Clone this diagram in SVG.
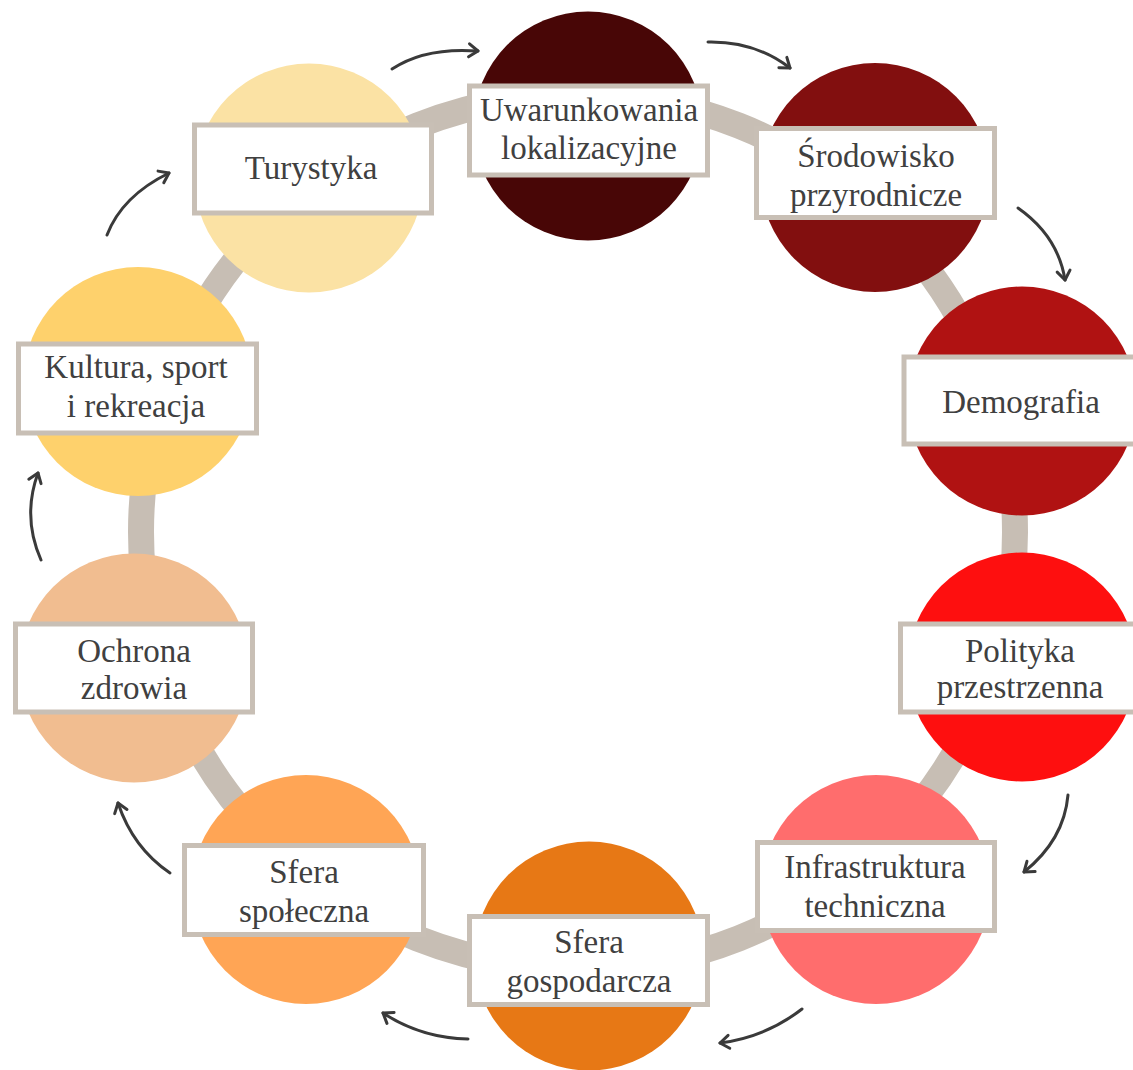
<svg xmlns="http://www.w3.org/2000/svg" width="1133" height="1070" viewBox="0 0 1133 1070">
<style>
.lbl { font-family: "Liberation Serif", "Times New Roman", serif; font-size: 33px; fill: #404040; text-anchor: middle; }
.box { fill: #ffffff; stroke: #c8bfb5; stroke-width: 5; }
.arrow { fill: none; stroke: #3a3a3a; stroke-width: 3; stroke-linecap: round; marker-end: url(#ah); }
.ring { fill: none; stroke: #c7beb4; stroke-width: 26; }
</style>
<defs>
<marker id="ah" markerUnits="userSpaceOnUse" markerWidth="20" markerHeight="20" viewBox="-12 -10 16 20" refX="0" refY="0" orient="auto">
<path d="M -9 -6.5 L 0 0 L -9 6.5" fill="none" stroke="#3a3a3a" stroke-width="3" stroke-linecap="round" stroke-linejoin="round"/>
</marker>
</defs>
<rect width="1133" height="1070" fill="#ffffff"/>
<g id="connectors">
<circle class="ring" cx="578" cy="532" r="437"/>
<path class="arrow" d="M 392 69 Q 425 47 478 51"/>
<path class="arrow" d="M 708 42 Q 755 41 790 68"/>
<path class="arrow" d="M 1018 208 Q 1058 236 1065 280"/>
<path class="arrow" d="M 1068 795 Q 1064 840 1024 872"/>
<path class="arrow" d="M 802 1009 Q 766 1037 720 1043"/>
<path class="arrow" d="M 468 1039 Q 421 1038 383 1013"/>
<path class="arrow" d="M 170 873 Q 133 848 118 803"/>
<path class="arrow" d="M 41 560 Q 22 517 38 473"/>
<path class="arrow" d="M 107 235 Q 122 196 169 173"/>
</g>
<g id="node-uwarunkowania">
<circle cx="588" cy="126" r="114.5" fill="#480606"/>
<rect class="box" x="469.5" y="86" width="238" height="89"/>
<text class="lbl" x="589" y="121">Uwarunkowania</text>
<text class="lbl" x="589" y="159">lokalizacyjne</text>
</g>
<g id="node-srodowisko">
<circle cx="875" cy="177.5" r="114.5" fill="#820f0f"/>
<rect class="box" x="756.5" y="128.5" width="238" height="89"/>
<text class="lbl" x="876" y="167">Środowisko</text>
<text class="lbl" x="876" y="206">przyrodnicze</text>
</g>
<g id="node-demografia">
<circle cx="1022" cy="401" r="114.5" fill="#b01212"/>
<rect class="box" x="904" y="357" width="238" height="87"/>
<text class="lbl" x="1021" y="413">Demografia</text>
</g>
<g id="node-polityka">
<circle cx="1022" cy="667" r="114.5" fill="#fe0f0f"/>
<rect class="box" x="900.5" y="624" width="238" height="88"/>
<text class="lbl" x="1020" y="662">Polityka</text>
<text class="lbl" x="1020" y="698">przestrzenna</text>
</g>
<g id="node-infrastruktura">
<circle cx="876" cy="889.5" r="114.5" fill="#ff6d6d"/>
<rect class="box" x="757.5" y="842.5" width="237" height="88"/>
<text class="lbl" x="875" y="878">Infrastruktura</text>
<text class="lbl" x="875" y="917">techniczna</text>
</g>
<g id="node-gospodarcza">
<circle cx="589" cy="956" r="114.5" fill="#e77815"/>
<rect class="box" x="469.5" y="916.5" width="238" height="88"/>
<text class="lbl" x="589" y="953">Sfera</text>
<text class="lbl" x="589" y="992">gospodarcza</text>
</g>
<g id="node-spoleczna">
<circle cx="306" cy="889.5" r="114.5" fill="#ffa555"/>
<rect class="box" x="184.5" y="845.5" width="239" height="89"/>
<text class="lbl" x="304" y="883">Sfera</text>
<text class="lbl" x="304" y="922">społeczna</text>
</g>
<g id="node-ochrona">
<circle cx="134" cy="668" r="114.5" fill="#f1bd90"/>
<rect class="box" x="15.5" y="624" width="237" height="88"/>
<text class="lbl" x="134" y="662">Ochrona</text>
<text class="lbl" x="134" y="699">zdrowia</text>
</g>
<g id="node-kultura">
<circle cx="138" cy="381.5" r="114.5" fill="#fed16c"/>
<rect class="box" x="18.5" y="344" width="238" height="89"/>
<text class="lbl" x="136" y="378">Kultura, sport</text>
<text class="lbl" x="136" y="417">i rekreacja</text>
</g>
<g id="node-turystyka">
<circle cx="309" cy="178" r="114.5" fill="#fbe2a4"/>
<rect class="box" x="194.5" y="125" width="237" height="88"/>
<text class="lbl" x="311" y="179">Turystyka</text>
</g>
</svg>
